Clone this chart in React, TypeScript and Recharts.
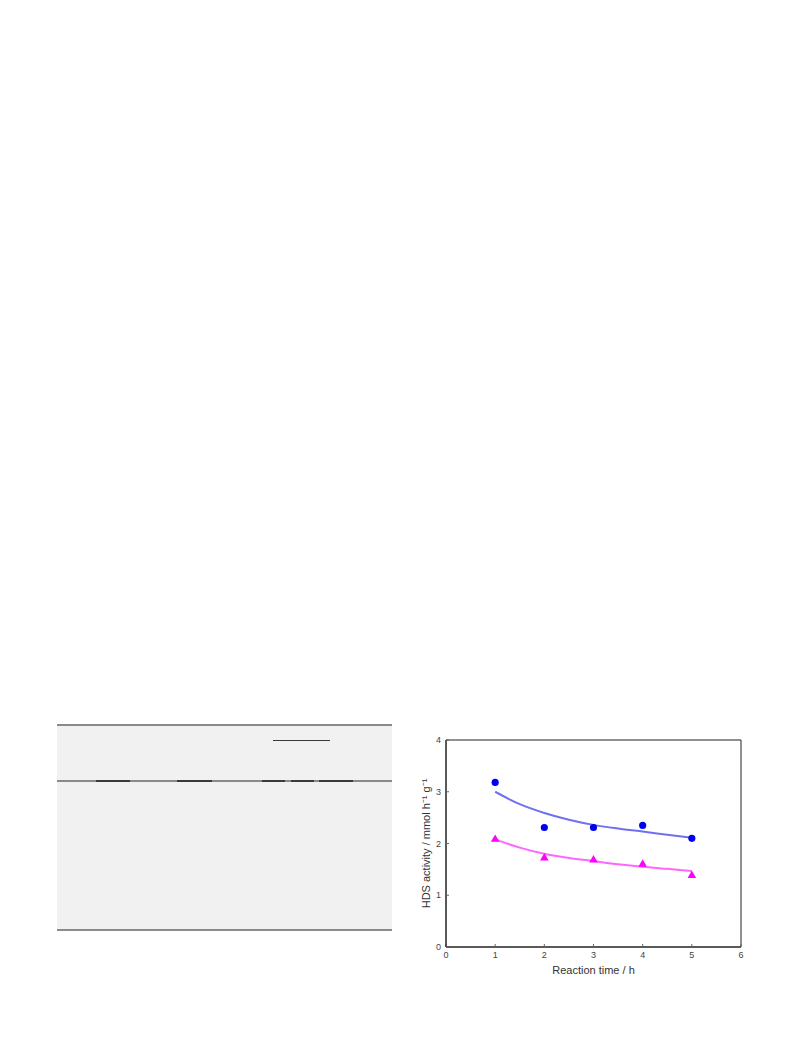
import React from 'react';
import { ComposedChart, Line, Scatter, XAxis, YAxis, ZAxis, ReferenceArea } from 'recharts';

// measured points
const times = [1, 2, 3, 4, 5];
const activityA = [3.18, 2.31, 2.31, 2.35, 2.1];
const activityB = [2.08, 1.72, 1.68, 1.6, 1.38];

// fitted curves
const fitTimes = [1, 1.5, 2, 2.5, 3, 3.5, 4, 4.5, 5];
const fitA = [3.0, 2.76, 2.59, 2.46, 2.36, 2.29, 2.23, 2.17, 2.11];
const fitB = [2.08, 1.92, 1.8, 1.72, 1.66, 1.6, 1.55, 1.51, 1.47];

const xTicks = [0, 1, 2, 3, 4, 5, 6];
const yTicks = [0, 1, 2, 3, 4];

const pointsA = times.map((t, i) => ({ t, v: activityA[i] }));
const pointsB = times.map((t, i) => ({ t, v: activityB[i] }));
const curveA = fitTimes.map((t, i) => ({ t, v: fitA[i] }));
const curveB = fitTimes.map((t, i) => ({ t, v: fitB[i] }));

const tickStyle = { fontSize: 9, fill: '#444', fontFamily: 'Liberation Sans, Arial, sans-serif' };
const labelStyle = { fontSize: 11, fill: '#333', fontFamily: 'Liberation Sans, Arial, sans-serif' };

const line = (top: number, left: number, width: number, color: string, h = 2) => (
  <div style={{ position: 'absolute', top, left, width, height: h, background: color }} />
);

const TableBox: React.FC = () => (
  <div style={{ position: 'absolute', left: 57, top: 724, width: 335, height: 207, background: '#f1f1f1' }}>
    {line(0, 0, 335, '#8a8a8a')}
    {line(56, 0, 335, '#8a8a8a')}
    {line(205, 0, 335, '#8a8a8a')}
    {line(16, 216, 57, '#3a3a3a', 1)}
    {line(56, 39, 34, '#3a3a3a')}
    {line(56, 120, 35, '#3a3a3a')}
    {line(56, 205, 23, '#3a3a3a')}
    {line(56, 234, 23, '#3a3a3a')}
    {line(56, 262, 34, '#3a3a3a')}
  </div>
);

export default function App() {
  return (
    <div style={{ position: 'absolute', left: 0, top: 0, width: 793, height: 1057, background: '#fff' }}>
      <TableBox />
      <div style={{ position: 'absolute', left: 400, top: 730 }}>
        <ComposedChart width={360} height={260} margin={{ top: 10, right: 19, bottom: 0, left: 0 }}>
          <XAxis
            xAxisId="b"
            dataKey="t"
            type="number"
            domain={[0, 6]}
            ticks={xTicks}
            height={43}
            tick={tickStyle}
            tickSize={-3}
            tickMargin={8}
            stroke="#222"
            tickLine={{ stroke: '#666' }}
            label={{ value: 'Reaction time / h', position: 'insideBottom', offset: 16, style: labelStyle }}
          />
          <YAxis
            yAxisId="l"
            type="number"
            domain={[0, 4]}
            ticks={yTicks}
            width={46}
            tick={tickStyle}
            tickSize={-3}
            tickMargin={8}
            stroke="#222"
            tickLine={{ stroke: '#666' }}
            label={{
              value: 'HDS activity / mmol  h⁻¹ g⁻¹',
              angle: -90,
              position: 'insideLeft',
              offset: 26,
              style: { ...labelStyle, textAnchor: 'middle' },
            }}
          />
          <ZAxis zAxisId="c" range={[40, 40]} />
          <ZAxis zAxisId="t" range={[32, 32]} />
          <ReferenceArea xAxisId="b" yAxisId="l" x1={0} x2={6} y1={0} y2={4} fill="none" stroke="#222" strokeWidth={1} />
          <Line
            xAxisId="b"
            yAxisId="l"
            data={curveA}
            dataKey="v"
            type="monotone"
            stroke="#7070f0"
            strokeWidth={2}
            dot={false}
            isAnimationActive={false}
          />
          <Line
            xAxisId="b"
            yAxisId="l"
            data={curveB}
            dataKey="v"
            type="monotone"
            stroke="#ff66ff"
            strokeWidth={2}
            dot={false}
            isAnimationActive={false}
          />
          <Scatter xAxisId="b" yAxisId="l" zAxisId="c" data={pointsA} dataKey="v" fill="#0000f0" shape="circle" isAnimationActive={false} />
          <Scatter xAxisId="b" yAxisId="l" zAxisId="t" data={pointsB} dataKey="v" fill="#ff00ff" shape="triangle" isAnimationActive={false} />
        </ComposedChart>
      </div>
    </div>
  );
}
